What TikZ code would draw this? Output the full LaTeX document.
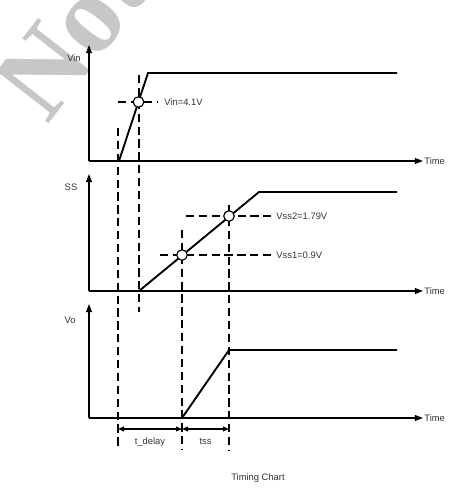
\documentclass[tikz,border=0pt]{standalone}
\usepackage{fontspec}
\setmainfont{Liberation Sans}
\newfontfamily\wmfont{Liberation Serif}
\usetikzlibrary{arrows.meta}

\tikzset{
  wave/.style={line width=1.6pt, line join=miter},
  axis/.style={line width=1.1pt, -{Triangle[length=7pt,width=5pt]}},
  guide/.style={line width=1.1pt, dash pattern=on 7pt off 4pt},
  ptcircle/.style={circle, draw, fill=white, line width=1pt, minimum size=9pt, inner sep=0pt},
  lbl/.style={font=\fontsize{8}{9}\selectfont, text=black!80, inner sep=1pt},
  span/.style={line width=1pt, {Triangle[length=5pt,width=4pt]}-{Triangle[length=5pt,width=4pt]}},
}

\begin{document}
\begin{tikzpicture}[x=0.03cm, y=-0.03cm]
        \useasboundingbox (0,0) rectangle (458,488);

        % Watermark, hidden by the chart area
        \begin{scope}
        \clip (0,0) rectangle (458,488);
        \node[anchor=base west, rotate=52, text=black!22, inner sep=0pt,
              font=\wmfont\bfseries\fontsize{95}{95}\selectfont] (wm) at (47,126) {Not};
        \end{scope}
        \fill[white] (90,76) rectangle (458,488);

        % Origins and ends of the three axes
        \coordinate (o1) at (89,161);
        \coordinate (y1) at (89,45);
        \coordinate (t1) at (423,161);
        \coordinate (o2) at (89,291);
        \coordinate (y2) at (89,174);
        \coordinate (t2) at (423,291);
        \coordinate (o3) at (89,418);
        \coordinate (y3) at (89,304);
        \coordinate (t3) at (423,418);

        % Draw the axes
        \draw[axis] (o1) -- (y1);
        \draw[axis] (o1) -- (t1);
        \draw[axis] (o2) -- (y2);
        \draw[axis] (o2) -- (t2);
        \draw[axis] (o3) -- (y3);
        \draw[axis] (o3) -- (t3);

        % Axis labels
        \node[lbl] (vin) at (74,58) {Vin};
        \node[lbl] (ss) at (71,187) {SS};
        \node[lbl] (vo) at (70,320) {Vo};
        \node[lbl, anchor=west] (time1) at (t1) {Time};
        \node[lbl, anchor=west] (time2) at (t2) {Time};
        \node[lbl, anchor=west] (time3) at (t3) {Time};

        % Corners of the waveforms
        \coordinate (a1) at (119,161);
        \coordinate (a2) at (148,73);
        \coordinate (a3) at (397,73);
        \coordinate (b1) at (139,291);
        \coordinate (b2) at (259,192);
        \coordinate (b3) at (397,192);
        \coordinate (c1) at (182,418);
        \coordinate (c2) at (229,350);
        \coordinate (c3) at (397,350);

        % Draw the waveforms
        \draw[wave] (o1) -- (a1) -- (a2) -- (a3);
        \draw[wave] (o2) -- (b1) -- (b2) -- (b3);
        \draw[wave] (o3) -- (c1) -- (c2) -- (c3);

        % Dashed guide lines
        \draw[guide] (118,128) -- (118,450);
        \draw[guide] (139,75) -- (139,312);
        \draw[guide] (182,230) -- (182,450);
        \draw[guide] (229,205) -- (229,450);
        \draw[guide] (118,102) -- (157,102);
        \draw[guide] (186,216) -- (271,216);
        \draw[guide] (160,255) -- (271,255);

        % Threshold points and their labels
        \node[ptcircle] (p1) at (138.5,102) {};
        \node[ptcircle] (p2) at (182,255) {};
        \node[ptcircle] (p3) at (229,216) {};
        \node[lbl, anchor=west] (l1) at (163,102) {Vin=4.1V};
        \node[lbl, anchor=west] (l2) at (275,216) {Vss2=1.79V};
        \node[lbl, anchor=west] (l3) at (275,255) {Vss1=0.9V};

        % Delay and soft start spans
        \coordinate (s1) at (118,429);
        \coordinate (s2) at (182,429);
        \coordinate (s3) at (229,429);
        \draw[span] (s1) -- (s2);
        \draw[span] (s2) -- (s3);
        \node[lbl] (td) at (150,442) {t\_delay};
        \node[lbl] (ts) at (205.5,442) {tss};

        \node[lbl] (title) at (258,478) {Timing Chart};
    \end{tikzpicture}
\end{document}
